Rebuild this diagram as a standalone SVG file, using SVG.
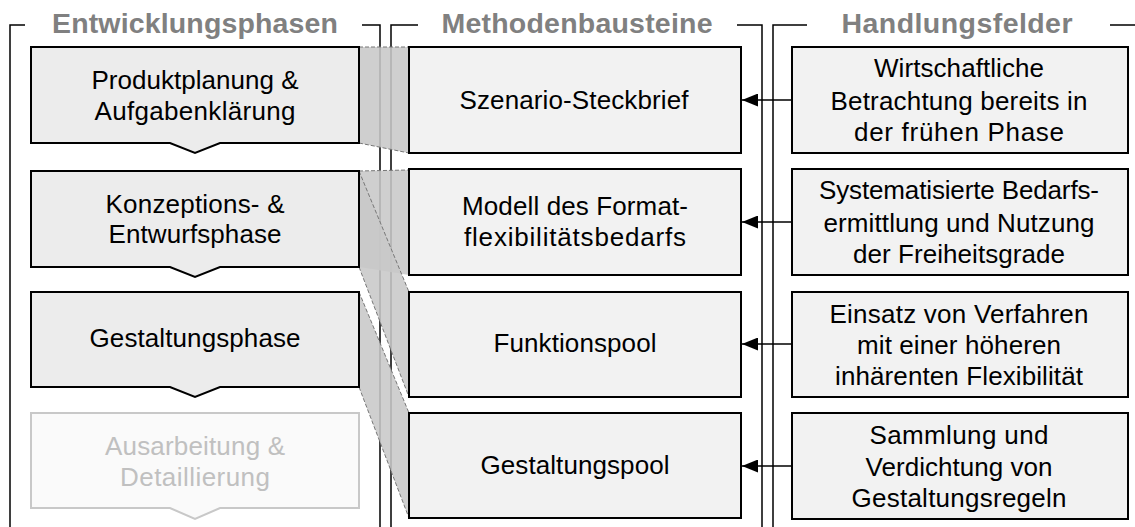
<svg xmlns="http://www.w3.org/2000/svg" width="1135" height="527" viewBox="0 0 1135 527">
<style>
text{font-family:"Liberation Sans",Arial,sans-serif;font-size:26px;fill:#000;text-anchor:middle}
.title{font-weight:bold;font-size:28.5px;fill:#808080}
.frame{stroke:#000;stroke-width:1.5;fill:none}
.lbox{fill:#ececec;stroke:#000;stroke-width:2}
.mbox{fill:#f2f2f2;stroke:#000;stroke-width:2}
.fbox{fill:#fafafa;stroke:#c8c8c8;stroke-width:2}
.ftext{fill:#c0c0c0}
.trap{fill:#c8c8c8;fill-opacity:0.88;stroke:none}
.dash{stroke:#777;stroke-width:1;stroke-dasharray:4 2;fill:none}
.conn{stroke:#000;stroke-width:1.5;fill:none}
</style>
<defs>
<marker id="arr" markerWidth="16" markerHeight="13" refX="16" refY="6.5" orient="auto" markerUnits="userSpaceOnUse">
<path d="M0,0 L16,6.5 L0,13 Z" fill="#000"/>
</marker>
</defs>
<rect width="1135" height="527" fill="#fff"/>
<g id="frames">
<path class="frame" d="M10,527 V25 H25 M362,25 H380 V527"/>
<path class="frame" d="M391,527 V25 H418 M737,25 H762 V527"/>
<path class="frame" d="M773,527 V25 H807 M1110,25 H1135"/>
<text class="title" x="195" y="33" textLength="286">Entwicklungsphasen</text>
<text class="title" x="577" y="33" textLength="271">Methodenbausteine</text>
<text class="title" x="957" y="33" textLength="231">Handlungsfelder</text>
</g>
<g id="mappings">
<polygon class="trap" points="359,47 409,47 409,153 359,143"/>
<polygon class="trap" points="359,171 409,170 409,275 359,267"/>
<polygon class="trap" points="359,171 409,292 409,397 359,267"/>
<polygon class="trap" points="359,292 409,413 409,518 359,387"/>
<path class="dash" d="M359,47 L409,47 M359,143 L409,153"/>
<path class="dash" d="M359,171 L409,170"/>
<path class="dash" d="M359,171 L409,292 M359,267 L409,397"/>
<path class="dash" d="M359,292 L409,413 M359,387 L409,518"/>
</g>
<g id="phase1">
<path class="lbox" d="M31,47 H359 V143 H220 L195,153 L170,143 H31 Z"/>
<text x="195" y="89" textLength="207">Produktplanung &amp;</text>
<text x="195" y="120" textLength="201">Aufgabenklärung</text>
</g>
<g id="phase2">
<path class="lbox" d="M31,171 H359 V267 H220 L195,277 L170,267 H31 Z"/>
<text x="195" y="213" textLength="179">Konzeptions- &amp;</text>
<text x="195" y="243" textLength="173">Entwurfsphase</text>
</g>
<g id="phase3">
<path class="lbox" d="M31,292 H359 V387 H220 L195,397 L170,387 H31 Z"/>
<text x="195" y="347" textLength="211">Gestaltungsphase</text>
</g>
<g id="phase4">
<path class="fbox" d="M31,413 H359 V508 H220 L195,519 L170,508 H31 Z"/>
<text class="ftext" x="195" y="455" textLength="180">Ausarbeitung &amp;</text>
<text class="ftext" x="195" y="486" textLength="150">Detaillierung</text>
</g>
<g id="method1">
<rect class="mbox" x="409" y="47" width="332" height="106"/>
<text x="574" y="109" textLength="229">Szenario-Steckbrief</text>
</g>
<g id="method2">
<rect class="mbox" x="409" y="169" width="332" height="106"/>
<text x="575" y="215" textLength="226">Modell des Format-</text>
<text x="575" y="246" textLength="222">flexibilitätsbedarfs</text>
</g>
<g id="method3">
<rect class="mbox" x="409" y="292" width="332" height="105"/>
<text x="575" y="352" textLength="163">Funktionspool</text>
</g>
<g id="method4">
<rect class="mbox" x="409" y="413" width="332" height="105"/>
<text x="575" y="474" textLength="189">Gestaltungspool</text>
</g>
<g id="field1">
<rect class="mbox" x="792" y="47" width="336" height="106"/>
<text x="959" y="77" textLength="170">Wirtschaftliche</text>
<text x="959" y="109.5" textLength="257">Betrachtung bereits in</text>
<text x="959" y="140.5" textLength="210">der frühen Phase</text>
</g>
<g id="field2">
<rect class="mbox" x="792" y="169" width="336" height="106"/>
<text x="959" y="199" textLength="280">Systematisierte Bedarfs-</text>
<text x="959" y="231.5" textLength="271">ermittlung und Nutzung</text>
<text x="959" y="262.5" textLength="212">der Freiheitsgrade</text>
</g>
<g id="field3">
<rect class="mbox" x="792" y="292" width="336" height="105"/>
<text x="959" y="322.5" textLength="259">Einsatz von Verfahren</text>
<text x="959" y="354" textLength="204">mit einer höheren</text>
<text x="959" y="385" textLength="248">inhärenten Flexibilität</text>
</g>
<g id="field4">
<rect class="mbox" x="792" y="413" width="336" height="106"/>
<text x="959" y="443.5" textLength="179">Sammlung und</text>
<text x="959" y="476" textLength="187">Verdichtung von</text>
<text x="959" y="507" textLength="215">Gestaltungsregeln</text>
</g>
<g id="connectors">
<line class="conn" x1="792" y1="100" x2="742" y2="100" marker-end="url(#arr)"/>
<line class="conn" x1="792" y1="222" x2="742" y2="222" marker-end="url(#arr)"/>
<line class="conn" x1="792" y1="344" x2="742" y2="344" marker-end="url(#arr)"/>
<line class="conn" x1="792" y1="466" x2="742" y2="466" marker-end="url(#arr)"/>
</g>
</svg>
